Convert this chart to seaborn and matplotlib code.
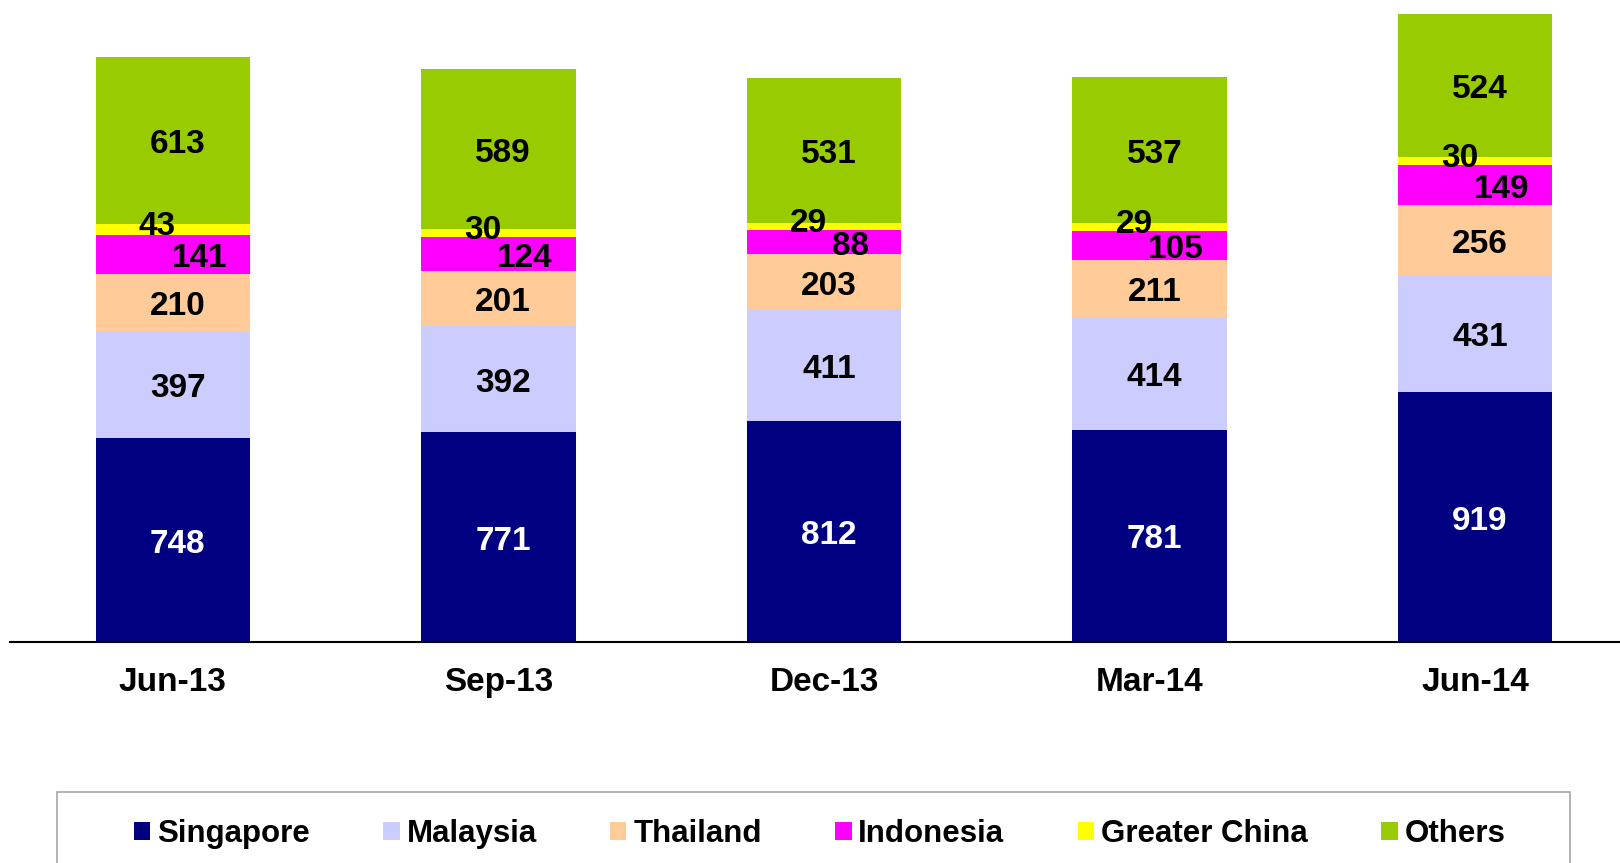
""" Stacked bars by market, quarterly """

import numpy as np
import matplotlib
matplotlib.use('Agg')
import matplotlib.pyplot as plt
from matplotlib.patches import Patch, Rectangle
import seaborn as sns

sns.set_style('white')
plt.rcParams['font.family'] = ['Liberation Sans', 'DejaVu Sans']
plt.rcParams['text.color'] = 'black'
plt.rcParams['xtick.color'] = 'black'

# values
quarters = ['Jun-13', 'Sep-13', 'Dec-13', 'Mar-14', 'Jun-14']
singapore = [748, 771, 812, 781, 919]
malaysia = [397, 392, 411, 414, 431]
thailand = [210, 201, 203, 211, 256]
indonesia = [141, 124, 88, 105, 149]
greater_china = [43, 30, 29, 29, 30]
others = [613, 589, 531, 537, 524]

series_names = ['Singapore', 'Malaysia', 'Thailand', 'Indonesia',
                'Greater China', 'Others']
series_values = [singapore, malaysia, thailand, indonesia, greater_china, others]
colors = ['#000080', '#CCCCFF', '#FFCC99', '#FF00FF', '#FFFF00', '#99CC00']
label_colors = ['white', 'black', 'black', 'black', 'black', 'black']
# labels slightly off centre; small segments nudged sideways (points)
label_offsets = [(3.5, -3), (3.5, -3), (3.5, -3), (19, -3), (-11, 2), (3.5, -3)]

W, H = 1620, 863
fig = plt.figure(figsize=(W / 100, H / 100), dpi=100)
ax = fig.add_axes([10 / W, 1 - 641.7 / H, 1 - 10 / W, 641.7 / H])

base = np.zeros(len(quarters))
for name, vals, cor, lcor, off in zip(series_names, series_values, colors,
                                      label_colors, label_offsets):
    vals = np.array(vals, dtype=float)
    sns.barplot(
        x=quarters,
        y=vals,
        bottom=base,
        color=cor,
        saturation=1,
        width=0.474,
        errorbar=None,
        linewidth=0,
        ax=ax
    )
    # labels in the middle of each segment
    for i, v in enumerate(vals):
        ax.annotate(
            f'{int(v)}',
            xy=(i, base[i] + v / 2),
            xytext=off,
            textcoords='offset points',
            ha='center', va='center',
            fontsize=24, fontweight='bold', color=lcor
        )
    base = base + vals

ax.set_xlim(-0.5, 4.445)
ax.set_ylim(0, 2362)
ax.set_yticks([])
ax.set_xlabel('')
ax.set_ylabel('')

sns.despine(ax=ax, left=True)
ax.spines['bottom'].set_color('black')
ax.spines['bottom'].set_linewidth(1.5)

ax.tick_params(axis='x', length=0, pad=18, labelsize=24, labelcolor='black')
for t in ax.get_xticklabels():
    t.set_fontweight('bold')

# legend with a plain gray box that runs off the bottom
handles = [Patch(facecolor=c, edgecolor='none') for c in colors]
fig.legend(
    handles, series_names,
    ncol=6,
    loc='center',
    bbox_to_anchor=(819.5 / W, 1 - 834 / H),
    frameon=False,
    prop={'weight': 'bold', 'size': 22.5},
    labelcolor='black',
    handlelength=0.53,
    handleheight=0.53,
    handletextpad=0.22,
    columnspacing=2.34
)
fig.add_artist(Rectangle(
    (57 / W, -0.1), (1570 - 57) / W, 0.1 + 1 - 792 / H,
    transform=fig.transFigure, fill=False,
    edgecolor='#a6a6a6', linewidth=1.2
))

fig.savefig('out.png', dpi=100)
